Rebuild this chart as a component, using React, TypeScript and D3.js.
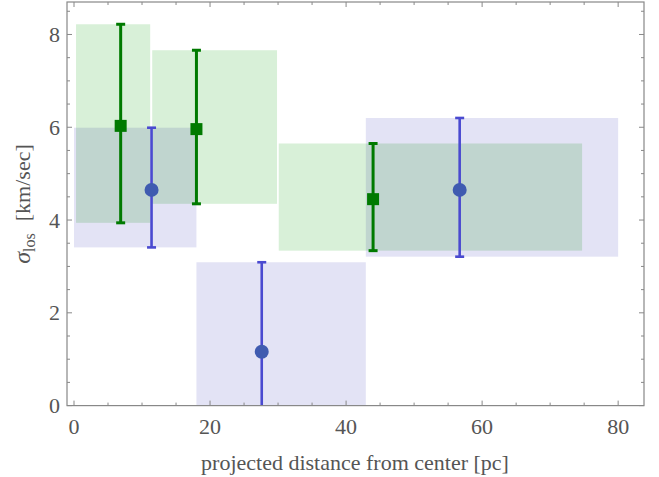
import React from "react";
import * as d3 from "d3";

// green (square) series
const greenX = [6.86, 18.0, 43.97];
const greenY = [6.03, 5.96, 4.45];
const greenLo = [3.94, 4.35, 3.34];
const greenHi = [8.22, 7.66, 5.65];
const greenBinL = [0.3, 11.5, 30.1];
const greenBinR = [11.2, 29.85, 74.7];

// blue (circle) series
const blueX = [11.4, 27.6, 56.7];
const blueY = [4.65, 1.16, 4.65];
const blueLo = [3.41, -0.8, 3.21];
const blueHi = [5.99, 3.09, 6.2];
const blueBinL = [0, 18.0, 42.9];
const blueBinR = [18.0, 42.9, 80.0];

const xTicks = [0, 20, 40, 60, 80];
const yTicks = [0, 2, 4, 6, 8];
const xMinor = d3.range(0, 85, 5);
const yMinor = d3.range(0, 8.75, 0.5);

const W = 659, H = 477;
const L = 67, R = 644, T = 2, B = 405.6;

export default function App() {
  const x = d3.scaleLinear().domain([-1.03, 83.8]).range([L, R]);
  const y = d3.scaleLinear().domain([0, 8.7]).range([B, T]);
  const fontStyle = { fontFamily: "Liberation Serif" };
  const txt = "#555";
  const frame = "#888";
  const gLine = "#007a00";
  const bLine = "#4a4ad0";
  const bPt = "#3f5bb0";
  const cap = 4.5;
  const fs = 22;

  return (
    <svg width={W} height={H} style={{ position: "absolute", left: 0, top: 0 }}>
      <defs>
        <clipPath id="plot">
          <rect x={L} y={T} width={R - L} height={B - T} />
        </clipPath>
      </defs>
      <rect width={W} height={H} fill="white" />
      <g clipPath="url(#plot)">
        {blueBinL.map((l, i) => (
          <rect key={"bb" + i} x={x(l)} width={x(blueBinR[i]) - x(l)}
            y={y(blueHi[i])} height={y(Math.max(0, blueLo[i])) - y(blueHi[i]) + (blueLo[i] < 0 ? 2 : 0)}
            fill="#e3e3f5" />
        ))}
        {greenBinL.map((l, i) => (
          <rect key={"gb" + i} x={x(l)} width={x(greenBinR[i]) - x(l)}
            y={y(greenHi[i])} height={y(greenLo[i]) - y(greenHi[i])}
            fill="#d8f0d8" style={{ mixBlendMode: "multiply" }} />
        ))}
        {greenX.map((v, i) => (
          <g key={"ge" + i} stroke={gLine} strokeWidth={3}>
            <line x1={x(v)} x2={x(v)} y1={y(greenLo[i])} y2={y(greenHi[i])} />
            <line x1={x(v) - cap} x2={x(v) + cap} y1={y(greenLo[i])} y2={y(greenLo[i])} />
            <line x1={x(v) - cap} x2={x(v) + cap} y1={y(greenHi[i])} y2={y(greenHi[i])} />
          </g>
        ))}
        {greenX.map((v, i) => (
          <rect key={"gp" + i} x={x(v) - 6} y={y(greenY[i]) - 6} width={12} height={12} fill={gLine} />
        ))}
        {blueX.map((v, i) => (
          <g key={"be" + i} stroke={bLine} strokeWidth={2.6}>
            <line x1={x(v)} x2={x(v)} y1={y(blueLo[i])} y2={y(blueHi[i])} />
            {blueLo[i] >= 0 && <line x1={x(v) - cap} x2={x(v) + cap} y1={y(blueLo[i])} y2={y(blueLo[i])} />}
            <line x1={x(v) - cap} x2={x(v) + cap} y1={y(blueHi[i])} y2={y(blueHi[i])} />
          </g>
        ))}
        {blueX.map((v, i) => (
          <circle key={"bp" + i} cx={x(v)} cy={y(blueY[i])} r={7} fill={bPt} />
        ))}
      </g>
      {/* frame */}
      <rect x={L} y={T} width={R - L} height={B - T} fill="none" stroke={frame} strokeWidth={1.2} />
      {xMinor.map((t) => {
        const major = t % 20 === 0;
        const len = major ? 5 : 3;
        return (
          <g key={"xt" + t} stroke={frame} strokeWidth={1}>
            <line x1={x(t)} x2={x(t)} y1={B} y2={B - len} />
            <line x1={x(t)} x2={x(t)} y1={T} y2={T + len} />
          </g>
        );
      })}
      {yMinor.map((t) => {
        const major = Math.abs(t % 2) < 1e-9;
        const len = major ? 5 : 3;
        return (
          <g key={"yt" + t} stroke={frame} strokeWidth={1}>
            <line x1={L} x2={L + len} y1={y(t)} y2={y(t)} />
            <line x1={R} x2={R - len} y1={y(t)} y2={y(t)} />
          </g>
        );
      })}
      {xTicks.map((t) => (
        <text key={"xl" + t} x={x(t)} y={434} textAnchor="middle" style={fontStyle} fontSize={fs} fill={txt}>{t}</text>
      ))}
      {yTicks.map((t) => (
        <text key={"yl" + t} x={60} y={y(t) + 7.5} textAnchor="end" style={fontStyle} fontSize={fs} fill={txt}>{t}</text>
      ))}
      <text x={355} y={470} textAnchor="middle" style={fontStyle} fontSize={fs} fill={txt}>
        projected distance from center [pc]
      </text>
      <text transform={`translate(30,${204}) rotate(-90)`} textAnchor="middle" style={fontStyle} fontSize={fs} fill={txt}>
        <tspan fontStyle="italic" fontSize={24}>σ</tspan>
        <tspan fontSize={16} dy={5}>los</tspan>
        <tspan dy={-5} dx={12}>[km/sec]</tspan>
      </text>
    </svg>
  );
}
